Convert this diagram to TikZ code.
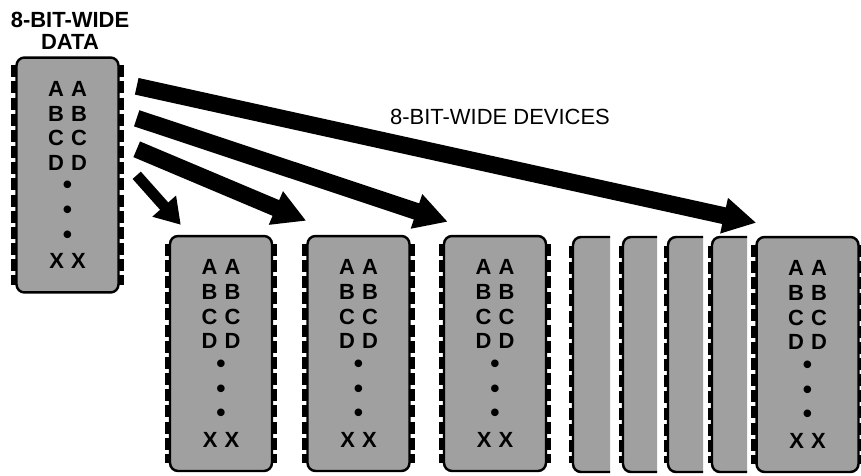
\documentclass[tikz,border=0pt]{standalone}
\usepackage{fontspec}
\setmainfont{Liberation Sans}
\usetikzlibrary{arrows.meta,calc}
\definecolor{chipgray}{RGB}{160,160,160}
\newcommand\pinsp{\hskip4pt}
\newcommand\chipdots{\raisebox{0.5pt}{\fontsize{15}{11}\selectfont\textbullet}}
\newcommand\chipdata{A\pinsp A\\B\pinsp B\\C\pinsp C\\D\pinsp D\\\chipdots\\\chipdots\\\chipdots\\X\pinsp X}

\begin{document}
\begin{tikzpicture}[
        x=0.02cm, y=-0.02cm,
        chip/.style={
            draw, line width=1.4pt, rounded corners=0.16cm, fill=chipgray,
            minimum width=2.04cm, minimum height=4.7cm, align=center,
            font=\bfseries\fontsize{12.5}{14}\selectfont
        },
        sliver/.style={draw, line width=1.4pt, rounded corners=0.16cm, fill=chipgray},
        pins/.style={line width=3pt, dash pattern=on 6.8pt off 2.4pt},
        bus/.style={line width=0.34cm, -{Triangle[length=0.66cm, width=0.68cm]}},
        smallbus/.style={line width=0.22cm, -{Triangle[length=0.5cm, width=0.6cm]}},
        lbl/.style={align=center, font=\bfseries\fontsize{12.5}{12.5}\selectfont}
    ]
    \useasboundingbox (0,0) rectangle (861,476);

    \node[chip] (data) at (67.5,175) {\chipdata};
    \node[chip] (dev1) at (221,353.5) {\chipdata};
    \node[chip] (dev2) at (358.5,353.5) {\chipdata};
    \node[chip] (dev3) at (495,353.5) {\chipdata};
    \node[chip] (dev4) at (807.5,354.5) {\chipdata};

    \foreach \l/\r in {573/610, 623/657, 668/703, 712/747} {
        \filldraw[sliver] (\r,237) -- (\l,237) -- (\l,472) -- (\r,472);
        \draw[pins] (\l-1.5,246) -- (\l-1.5,463);
    }

    \foreach \c in {data,dev1,dev2,dev3,dev4} {
        \draw[pins] ($(\c.north west)+(-1.5,9)$) -- ($(\c.south west)+(-1.5,-9)$);
        \draw[pins] ($(\c.north east)+(1.5,9)$) -- ($(\c.south east)+(1.5,-9)$);
    }

    \node[lbl] (datalbl) at (70,31) {8-BIT-WIDE\\DATA};
    \node[font=\fontsize{12.5}{13}\selectfont] (devlbl) at (500,117) {8-BIT-WIDE DEVICES};

    \draw[bus] ($(data.north east)+(17,30)$) -- ($(dev4.north west)+(1,-13)$);
    \draw[bus] ($(data.north east)+(17,62)$) -- ($(dev3.north west)+(5,-13)$);
    \draw[bus] ($(data.north east)+(17,93)$) -- ($(dev2.north west)+(0,-14)$);
    \draw[smallbus] ($(data.north east)+(17,119)$) -- ($(dev1.north west)+(12,-10)$);

\end{tikzpicture}
\end{document}
